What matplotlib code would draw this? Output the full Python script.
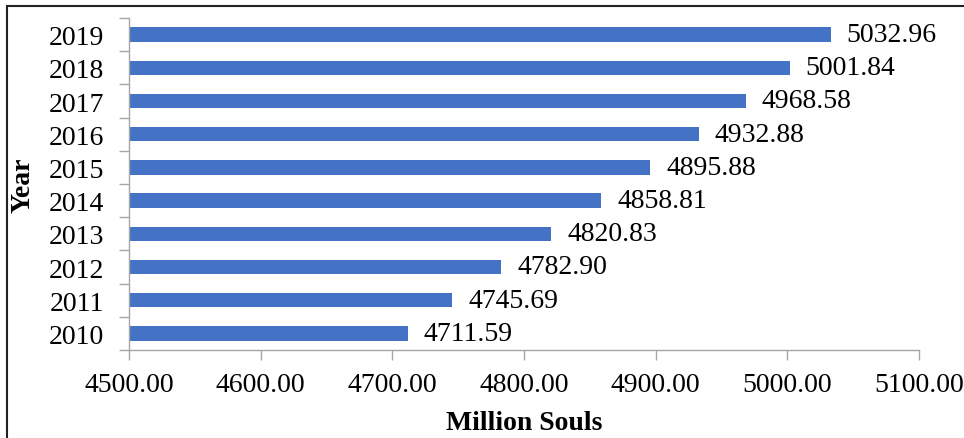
import matplotlib.pyplot as plt
from matplotlib.patches import Rectangle

years = ["2010", "2011", "2012", "2013", "2014", "2015", "2016", "2017", "2018", "2019"]
souls = [4711.59, 4745.69, 4782.90, 4820.83, 4858.81, 4895.88, 4932.88, 4968.58, 5001.84, 5032.96]
x_ticks = [4500, 4600, 4700, 4800, 4900, 5000, 5100]

plt.rcParams['font.family'] = ['Liberation Serif', 'DejaVu Serif']

W, H = 964, 439
fig = plt.figure(figsize=(W / 100, H / 100), dpi=100)

# frame around the picture (only left and top are visible in the crop)
fig.patches.append(Rectangle((7 / W, -0.5), 2, (H - 7) / H + 0.5, transform=fig.transFigure,
                             fill=False, edgecolor='#222222', linewidth=1.5))

ax = fig.add_axes([129 / W, (H - 351) / H, 790 / W, 332 / H])
pos = list(range(len(years)))
ax.barh(pos, souls, height=0.43, color='#4472C4', left=0)
ax.set_xlim(4500, 5100)
ax.set_ylim(-0.5, len(years) - 0.5)

for p, v in zip(pos, souls):
    ax.text(v + 12, p, f"{v:.2f}", va='center', ha='left', fontsize=20)

ax.set_xticks(x_ticks)
ax.set_xticklabels([f"{t:.2f}" for t in x_ticks], fontsize=20)
ax.set_yticks(pos)
ax.set_yticklabels(years, fontsize=20)
ax.set_yticks([p - 0.5 for p in pos] + [len(years) - 0.5], minor=True)
ax.tick_params(axis='y', which='major', length=0, pad=18)
ax.tick_params(axis='y', which='minor', length=7, color='#a6a6a6', width=1)
ax.tick_params(axis='x', length=7, color='#a6a6a6', width=1, pad=9)

for s in ['top', 'right']:
    ax.spines[s].set_visible(False)
for s in ['left', 'bottom']:
    ax.spines[s].set_color('#a6a6a6')
    ax.spines[s].set_linewidth(1)

ax.set_xlabel("Million Souls", fontsize=20, fontweight='bold')
ax.xaxis.set_label_coords(0.5, -(411 - 351) / 332)
ax.set_ylabel("Year", fontsize=20, fontweight='bold')
ax.yaxis.set_label_coords(-(129 - 36) / 790, 0.5)

fig.savefig("out.png", dpi=100)
